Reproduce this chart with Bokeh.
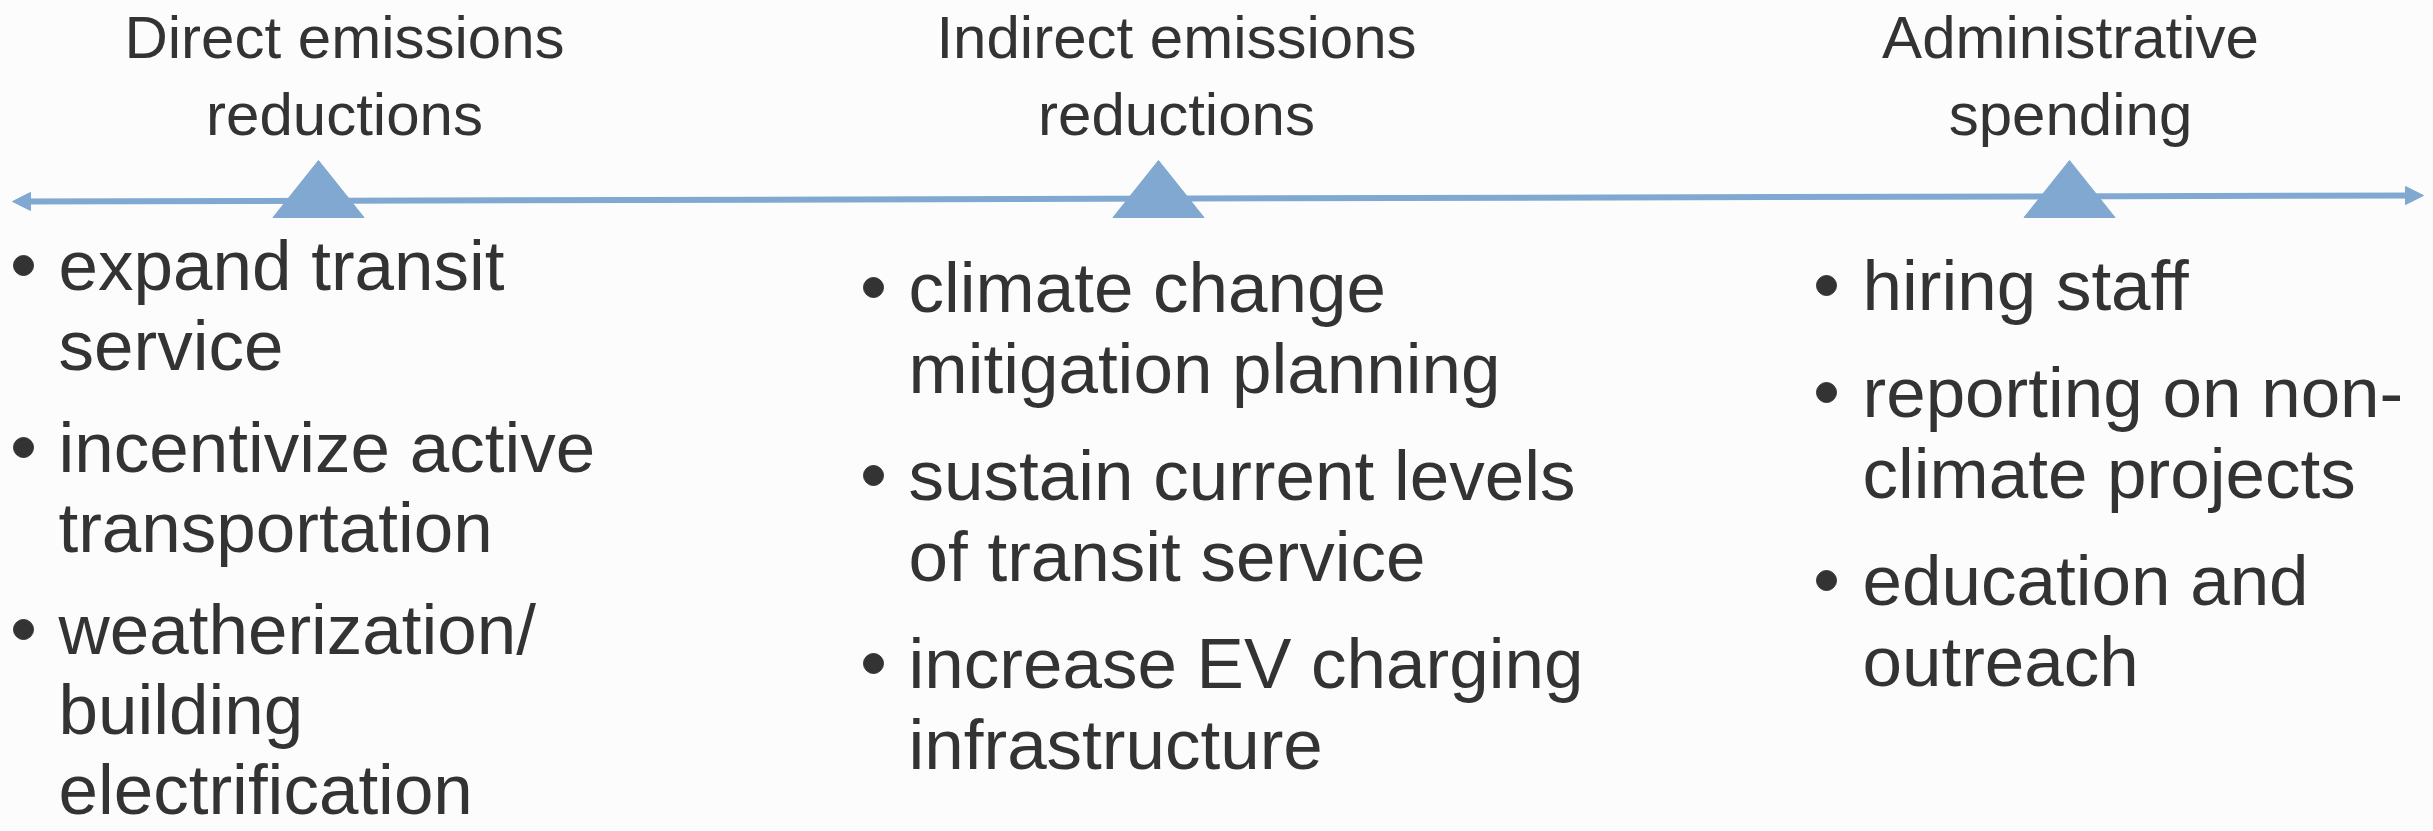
from bokeh.plotting import figure
from bokeh.models import Range1d, Arrow, NormalHead, ColumnDataSource
from bokeh.embed import file_html
from bokeh.resources import INLINE
from bokeh.core.properties import value

# ---------------- data ----------------
categories = [["Direct emissions", "reductions"],
              ["Indirect emissions", "reductions"],
              ["Administrative", "spending"]]

direct_items = [["expand transit", "service"],
                ["incentivize active", "transportation"],
                ["weatherization/", "building", "electrification"]]
indirect_items = [["climate change", "mitigation planning"],
                  ["sustain current levels", "of transit service"],
                  ["increase EV charging", "infrastructure"]]
admin_items = [["hiring staff"],
               ["reporting on non-", "climate projects"],
               ["education and", "outreach"]]
column_items = [direct_items, indirect_items, admin_items]

# ---------------- layout / style ----------------
W, H = 2433, 831
BG = "#fcfcfc"
BLUE = "#80a8d0"
TXT = "#333333"
FONT = value("Liberation Sans")
TEXT_SHIFT_TITLE = 20      # renderer baseline correction
TEXT_SHIFT_BODY = 23

title_cx = [344, 1176, 2070]
title_base = [57, 134]
title_size = "60px"

tri_cx = [318, 1158, 2069]
tri_top, tri_bot, tri_half = 160, 217, 45.5

line_x0, line_y0, line_x1, line_y1 = 12, 201, 2423, 195

bullet_x = [23, 873, 1826]
text_x = [58, 908, 1862]
first_base = [288, 310, 308]
line_step = [80, 81, 81]
item_gap = [22, 26, 26]
body_size = "71px"

p = figure(width=W, height=H, x_range=Range1d(0, W), y_range=Range1d(H, 0),
           output_backend="svg", toolbar_location=None, min_border=0,
           x_axis_type=None, y_axis_type=None)
p.grid.visible = False
p.outline_line_color = None
p.background_fill_color = BG
p.border_fill_color = BG

# axis line with arrows
head = dict(size=18, fill_color=BLUE, line_color=BLUE, line_width=1)
p.add_layout(Arrow(start=NormalHead(**head), end=NormalHead(**head),
                   x_start=line_x0, y_start=line_y0,
                   x_end=line_x1, y_end=line_y1,
                   line_color=BLUE, line_width=6))

# triangles
xs, ys = [], []
for cx in tri_cx:
    xs.append([cx, cx - tri_half, cx + tri_half])
    ys.append([tri_top, tri_bot, tri_bot])
p.patches(xs, ys, fill_color=BLUE, line_color=BLUE, line_width=1)

# titles
tx, ty, tt = [], [], []
for cx, lines in zip(title_cx, categories):
    for i, s in enumerate(lines):
        tx.append(cx); ty.append(title_base[i] - TEXT_SHIFT_TITLE); tt.append(s)
p.text(x="x", y="y", text="text", source=ColumnDataSource(dict(x=tx, y=ty, text=tt)),
       text_font=FONT, text_font_size=title_size, text_color=TXT,
       text_align="center", text_baseline="alphabetic")

# bullets and body text
bx, by, lx, ly, lt = [], [], [], [], []
for c, items in enumerate(column_items):
    y = first_base[c]
    for lines in items:
        bx.append(bullet_x[c]); by.append(y - 23)
        for s in lines:
            lx.append(text_x[c]); ly.append(y - TEXT_SHIFT_BODY); lt.append(s)
            y += line_step[c]
        y += item_gap[c]
p.scatter(bx, by, marker="circle", size=20, fill_color=TXT, line_color=TXT)
p.text(x="x", y="y", text="text", source=ColumnDataSource(dict(x=lx, y=ly, text=lt)),
       text_font=FONT, text_font_size=body_size, text_color=TXT,
       text_align="left", text_baseline="alphabetic")

open("out.html", "w").write(file_html(p, INLINE))
